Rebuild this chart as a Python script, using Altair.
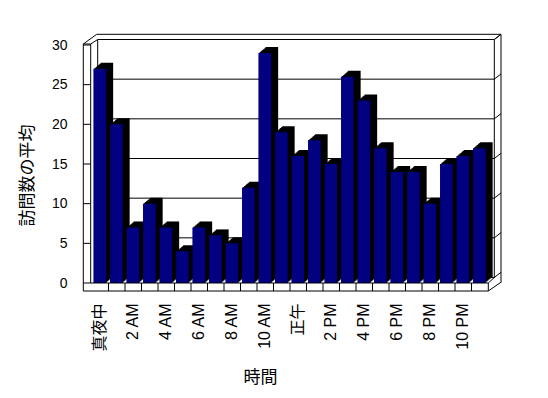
import altair as alt
import pandas as pd

# ---- data ----
hours = ["真夜中", "1 AM", "2 AM", "3 AM", "4 AM", "5 AM", "6 AM", "7 AM", "8 AM",
         "9 AM", "10 AM", "11 AM", "正午", "1 PM", "2 PM", "3 PM", "4 PM", "5 PM",
         "6 PM", "7 PM", "8 PM", "9 PM", "10 PM", "11 PM"]
visits = [27, 20, 7, 10, 7, 4, 7, 6, 5, 12, 29, 19, 16, 18, 15, 26, 23, 17, 14, 14, 10, 15, 16, 17]
y_ticks = [0, 5, 10, 15, 20, 25, 30]
y_title = "訪問数の平均"
x_title = "時間"

W, H = 396, 238
FONT = "Liberation Sans, Noto Sans CJK JP"
NAVY = "#000080"
DX, DY = 7, 6   # depth of 3D extrusion (px)

df = pd.DataFrame({"hour": hours, "visits": visits})
gdf = pd.DataFrame({"visits": y_ticks})
one = pd.DataFrame({"a": [0]})

xscale = alt.Scale(domain=hours, paddingInner=0, paddingOuter=0)
yscale = alt.Scale(domain=[0, 30], nice=False, zero=True)

xaxis = alt.Axis(values=hours[::2], labelAngle=-90, ticks=False, tickSize=0,
                 domain=False, grid=False, labelPadding=20,
                 labelFont=FONT, labelFontSize=16, labelColor="black",
                 title=x_title, titleFont=FONT, titleFontSize=17,
                 titleFontWeight="normal", titleColor="black",
                 titleX=168, titleY=94, titleAlign="center",
                 titleBaseline="middle")
yaxis = alt.Axis(values=y_ticks, ticks=False, tickSize=0, domain=False,
                 grid=False, labelPadding=25, labelFont=FONT,
                 labelFontSize=14, labelColor="black",
                 title=y_title, titleFont=FONT, titleFontSize=17,
                 titleFontWeight="normal", titleColor="black",
                 titleX=-65, titleY=130, titleAlign="center",
                 titleBaseline="middle", titleAngle=270)


def X(**kw):
    return alt.X("hour:N", sort=hours, scale=xscale, axis=xaxis, **kw)


def Y():
    return alt.Y("visits:Q", scale=yscale, axis=yaxis)


def seg(x1, y1, x2, y2):
    return alt.Chart(one).mark_rule(color="black", strokeWidth=1).encode(
        x=alt.value(x1), y=alt.value(y1), x2=alt.value(x2), y2=alt.value(y2))


# back wall
back = [
    seg(5.7, -5.5, 5.7, 232.5),
    seg(402.3, -5.5, 402.3, 232.5),
    seg(4.7, -10.7, 409, -10.7),
    seg(409, -10.7, 409, 236.7),
    seg(402.3, -5.5, 409, -10.7),
    seg(-8.7, -1, 4.7, -10.7),
    seg(-1.3, -1, 5.7, -5.5),
]

grid = alt.Chart(gdf).mark_rule(color="black", yOffset=-5.5).encode(
    y=Y(), x=alt.value(5.7), x2=alt.value(402.3))
grid_diag = alt.Chart(gdf).mark_rule(color="black", yOffset=-5.5, y2Offset=-10.7).encode(
    y=Y(), y2=alt.Y2("visits:Q"),
    x=alt.value(402.3), x2=alt.value(409))

shadows = [
    alt.Chart(df).mark_bar(width=12.5, color="black", xOffset=-0.35 + k,
                           yOffset=-k * DY / DX, y2Offset=-k * DY / DX).encode(
        x=X(), y=Y())
    for k in range(DX, 0, -1)
]

front = alt.Chart(df).mark_bar(width=12.5, color=NAVY, xOffset=-0.35).encode(
    x=X(), y=Y())

left_ticks = alt.Chart(gdf).mark_rule(color="black").encode(
    y=Y(), x=alt.value(-8.7), x2=alt.value(-1.3))

floor_ticks = alt.Chart(pd.DataFrame({"hour": hours[1:]})).mark_rule(color="black").encode(
    x=X(bandPosition=0), y=alt.value(238), y2=alt.value(246))

frame = [
    seg(-8.7, -1, -1.3, -1),
    seg(-8.7, -1, -8.7, 246),
    seg(-1.3, -1, -1.3, 238),
    seg(-1.3, 238, 396.3, 238),
    seg(-8.7, 246, 396.3, 246),
    seg(396.3, 238, 396.3, 246),
    seg(396.3, 246, 409.7, 236.7),
    seg(396.3, 238, 402.3, 232.5),
]

chart = alt.layer(
    front, *back, grid, grid_diag, *shadows, front, left_ticks, floor_ticks, *frame
).properties(
    width=W, height=H,
    autosize=alt.AutoSizeParams(type="none"),
    padding={"left": 84, "top": 37, "right": 40, "bottom": 112},
    background="white",
).configure_view(stroke=None)

chart.save("out.html", embed_options={"renderer": "svg", "actions": False})
